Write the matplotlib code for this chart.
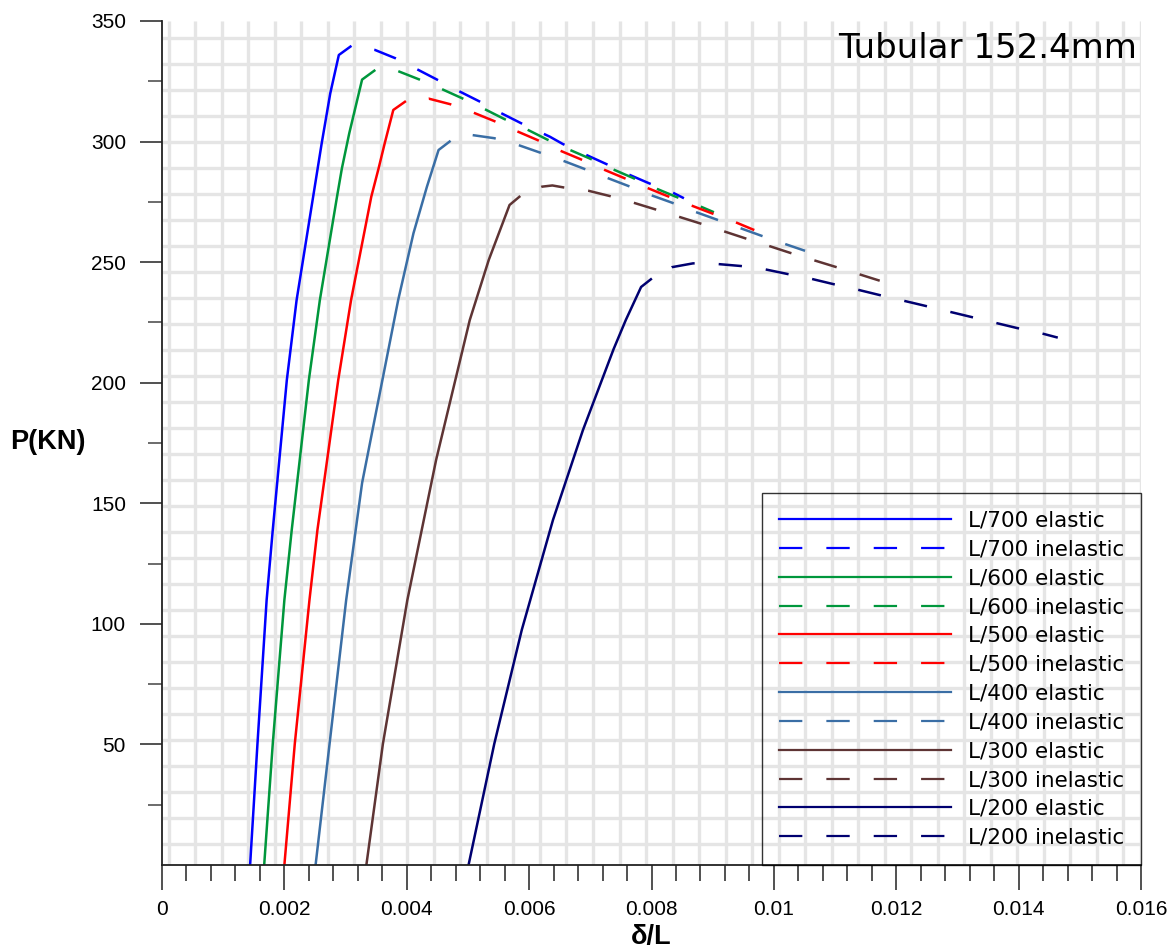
"""
Tubular 152.4mm: load P vs. delta/L for different imperfections (elastic / inelastic)
"""

import numpy as np
import matplotlib
matplotlib.use('Agg')
import matplotlib.pyplot as plt
from matplotlib.lines import Line2D

plt.rcParams['font.family'] = 'DejaVu Sans'
plt.rcParams['lines.scale_dashes'] = False

# ---- data ----
L700_el_x = [0.00144, 0.00156, 0.00171, 0.00181, 0.00204, 0.00220, 0.00247, 0.00261, 0.00275, 0.00289, 0.00308]
L700_el_y = [0, 50.2, 109.9, 138.9, 201.1, 234.3, 277.1, 299.3, 320.0, 335.9, 339.4]
L700_in_x = [0.00308, 0.00348, 0.00382, 0.00419, 0.00451, 0.00487, 0.00520, 0.00555, 0.00587,
             0.00634, 0.00655, 0.00694, 0.00726, 0.00765, 0.00796, 0.00835, 0.00853]
L700_in_y = [339.4, 338.0, 334.5, 329.7, 325.5, 320.7, 316.5, 311.7, 307.6,
             302.0, 299.0, 294.4, 290.7, 286.1, 282.7, 278.8, 276.5]

L600_el_x = [0.00167, 0.00181, 0.00200, 0.00212, 0.00240, 0.00258, 0.00286, 0.00294, 0.00306, 0.00327, 0.00347]
L600_el_y = [0, 50.2, 109.9, 138.9, 201.1, 234.3, 277.1, 288.9, 303.4, 325.7, 329.4]
L600_in_x = [0.00347, 0.00385, 0.00420, 0.00457, 0.00491, 0.00527, 0.00559, 0.00596, 0.00629,
             0.00667, 0.00698, 0.00737, 0.00769, 0.00807, 0.00840, 0.00878, 0.00902]
L600_in_y = [329.4, 329.3, 325.8, 321.8, 317.9, 313.5, 309.4, 305.1, 300.9,
             296.5, 293.1, 288.5, 285.0, 280.6, 277.1, 273.3, 270.7]

L500_el_x = [0.00200, 0.00217, 0.00241, 0.00254, 0.00288, 0.00309, 0.00342, 0.00354, 0.00364, 0.00378, 0.00397]
L500_el_y = [0, 50.2, 109.9, 138.9, 201.1, 234.3, 277.1, 288.9, 299.3, 313.1, 316.5]
L500_in_x = [0.00397, 0.00436, 0.00471, 0.00509, 0.00543, 0.00580, 0.00613, 0.00651, 0.00683,
             0.00721, 0.00754, 0.00792, 0.00826, 0.00863, 0.00898, 0.00935, 0.00968]
L500_in_y = [316.5, 317.8, 315.5, 312.0, 308.5, 304.3, 300.7, 296.2, 292.8,
             288.5, 285.0, 280.9, 277.4, 273.7, 270.3, 266.8, 263.3]

L400_el_x = [0.00251, 0.00301, 0.00327, 0.00386, 0.00411, 0.00433, 0.00452, 0.00470]
L400_el_y = [0, 109.9, 158.4, 234.3, 262.0, 281.3, 296.5, 300.0]
L400_in_x = [0.00470, 0.00507, 0.00543, 0.00582, 0.00617, 0.00655, 0.00689, 0.00727, 0.00761,
             0.00799, 0.00833, 0.00871, 0.00905, 0.00943, 0.00979, 0.01015, 0.01051]
L400_in_y = [300.0, 302.7, 301.4, 298.6, 295.5, 292.1, 288.8, 285.0, 281.7,
             277.8, 274.7, 270.9, 267.8, 264.3, 261.0, 257.8, 254.7]

L300_el_x = [0.00334, 0.00361, 0.00401, 0.00448, 0.00503, 0.00534, 0.00568, 0.00584]
L300_el_y = [0, 50.2, 109.9, 168.0, 226.0, 250.9, 273.7, 277.1]
L300_in_x = [0.00584, 0.00621, 0.00638, 0.00656, 0.00697, 0.00732, 0.00770, 0.00806, 0.00845,
             0.00879, 0.00917, 0.00953, 0.00991, 0.01026, 0.01064, 0.01100, 0.01138, 0.01173]
L300_in_y = [277.1, 281.3, 281.8, 281.0, 279.6, 277.4, 274.7, 271.9, 268.8,
             266.1, 262.9, 259.9, 256.8, 253.9, 250.9, 248.1, 245.1, 242.3]

L200_el_x = [0.00501, 0.00543, 0.00588, 0.00639, 0.00688, 0.00738, 0.00758, 0.00783, 0.00799]
L200_el_y = [0, 50.2, 97.5, 143.1, 180.4, 213.9, 226.0, 239.7, 242.9]
L200_in_x = [0.00799, 0.00833, 0.00868, 0.00909, 0.00946, 0.00986, 0.01022, 0.01061, 0.01097,
             0.01135, 0.01172, 0.01212, 0.01247, 0.01286, 0.01322, 0.01361, 0.01397, 0.01437, 0.01464]
L200_in_y = [242.9, 247.9, 249.5, 249.2, 248.4, 247.0, 245.1, 243.1, 240.9,
             238.7, 236.4, 234.0, 231.9, 229.5, 227.3, 224.9, 222.7, 220.5, 218.7]

names = ['L/700', 'L/600', 'L/500', 'L/400', 'L/300', 'L/200']
colors = ['#0000ff', '#00973c', '#ff0000', '#3a6ea5', '#5e3434', '#000070']

x_ticks = [0, 0.002, 0.004, 0.006, 0.008, 0.01, 0.012, 0.014, 0.016]
x_tick_labels = ['0', '0.002', '0.004', '0.006', '0.008', '0.01', '0.012', '0.014', '0.016']
y_ticks = [50, 100, 150, 200, 250, 300, 350]

series = [
    (L700_el_x, L700_el_y, L700_in_x, L700_in_y),
    (L600_el_x, L600_el_y, L600_in_x, L600_in_y),
    (L500_el_x, L500_el_y, L500_in_x, L500_in_y),
    (L400_el_x, L400_el_y, L400_in_x, L400_in_y),
    (L300_el_x, L300_el_y, L300_in_x, L300_in_y),
    (L200_el_x, L200_el_y, L200_in_x, L200_in_y),
]

# ---- figure ----
fig = plt.figure(figsize=(11.76, 9.49), dpi=100)
fig.patch.set_facecolor('white')
ax = fig.add_axes([162 / 1176, 1 - 865 / 949, 979 / 1176, 844 / 949])

ax.set_xlim(0, 0.016)
ax.set_ylim(0, 350)

# background grid (not tied to the tick positions in the original)
grid_x = 0.0001095 + 0.0004334 * np.arange(37)
grid_y = 343.1 - 10.782 * np.arange(32)
ax.vlines(grid_x, 0, 350, color='#e5e5e5', lw=2.4, zorder=0)
ax.vlines([0.016], 0, 350, color='#e5e5e5', lw=2.4, zorder=0)
ax.hlines(grid_y, 0, 0.016, color='#e5e5e5', lw=2.4, zorder=0)

DASH, GAP = 16.8, 17.3
handles = []
for name, color, (ex, ey, ix, iy) in zip(names, colors, series):
    ax.plot(ex, ey, color=color, lw=1.8, zorder=3)
    ax.plot(ix, iy, color=color, lw=1.8, linestyle=(DASH, (DASH, GAP)),
            dash_capstyle='butt', zorder=3)
    handles.append(Line2D([], [], color=color, lw=1.6, label=f'{name} elastic'))
    handles.append(Line2D([], [], color=color, lw=1.6, linestyle=(0, (DASH, GAP)),
                          dash_capstyle='butt', label=f'{name} inelastic'))

leg = ax.legend(handles=handles, loc='lower right', bbox_to_anchor=(1.0, 0.0),
                borderaxespad=0, fontsize=15.5, handlelength=7.95, handletextpad=0.79,
                borderpad=0.8, labelspacing=0.41, frameon=True, fancybox=False)
leg.get_frame().set_facecolor('none')
leg.get_frame().set_edgecolor('black')
leg.get_frame().set_linewidth(1.0)

# ticks
ax.set_xticks(x_ticks)
ax.set_xticklabels(x_tick_labels)
ax.set_xticks([i * 0.0004 for i in range(41) if i % 5 != 0], minor=True)
ax.set_yticks(y_ticks)
ax.set_yticks([25 + 50 * i for i in range(7)], minor=True)

ax.tick_params(axis='x', which='major', direction='out', length=18, width=1.1, pad=7,
               labelsize=15, colors='#222222', labelcolor='black')
ax.tick_params(axis='x', which='minor', direction='out', length=11.5, width=1.1, colors='#222222')
ax.tick_params(axis='y', which='major', direction='out', length=16, width=1.1, pad=10,
               labelsize=15, colors='#222222', labelcolor='black')
ax.tick_params(axis='y', which='minor', direction='out', length=10, width=1.1, colors='#444444')
for lab in ax.get_xticklabels() + ax.get_yticklabels():
    lab.set_fontfamily('Liberation Sans')

for s in ['top', 'right']:
    ax.spines[s].set_visible(False)
for s in ['left', 'bottom']:
    ax.spines[s].set_linewidth(1.3)
    ax.spines[s].set_color('#222222')
    ax.spines[s].set_zorder(5)

# labels
ax.set_ylabel('P(KN)', rotation=0, fontfamily='Liberation Sans', fontweight='bold',
              fontsize=19.5, va='center', ha='center')
ax.yaxis.set_label_coords(-0.117, 0.501)
ax.set_xlabel('δ/L', fontfamily='Liberation Sans', fontweight='bold', fontsize=19.5)
ax.xaxis.set_label_coords(0.5, -0.0853)
ax.xaxis.label.set_verticalalignment('center')

fig.text(1137 / 1176, 1 - 58 / 949, 'Tubular 152.4mm', ha='right', va='baseline', fontsize=24.5)

fig.savefig('out.png', dpi=100, facecolor='white')
plt.close(fig)
